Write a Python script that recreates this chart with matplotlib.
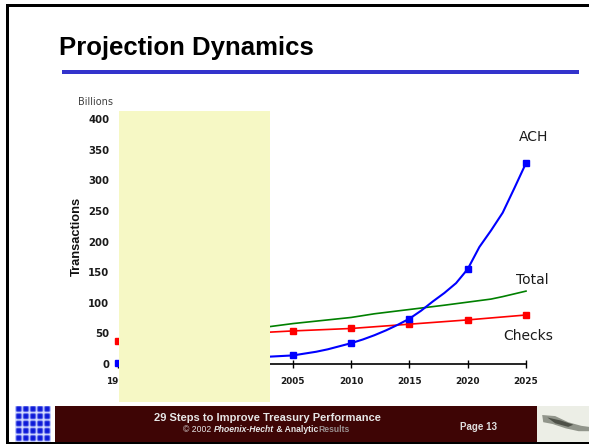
import matplotlib
matplotlib.use('Agg')
import matplotlib.pyplot as plt
from matplotlib.patches import Rectangle, Polygon
import numpy as np

W, H = 589, 444
DPI = 100

# ---------------- data ----------------
ach_years = [1990, 1995, 2000, 2003, 2005, 2006, 2007, 2008, 2009, 2010, 2011, 2012,
             2013, 2014, 2015, 2016, 2017, 2018, 2019, 2020, 2021, 2022, 2023, 2024, 2025]
ach_values = [1, 4, 8, 12, 14, 17, 20, 24, 29, 34, 40, 47,
              55, 64, 74, 87, 102, 116, 132, 155, 191, 218, 247, 287, 328]

check_years = [1990, 1995, 2000, 2005, 2010, 2015, 2020, 2025]
check_values = [37, 44, 49, 54, 58, 65, 72, 80]

total_years = [2000, 2003, 2005, 2008, 2010, 2012, 2015, 2018, 2020, 2022, 2023, 2025]
total_values = [58, 61, 66, 72, 76, 82, 89, 96, 101, 106, 110, 119]

x_ticks = [1990, 1995, 2000, 2005, 2010, 2015, 2020, 2025]
y_ticks = [0, 50, 100, 150, 200, 250, 300, 350, 400]

series_labels = ["ACH", "Total", "Checks"]

# ---------------- figure ----------------
fig = plt.figure(figsize=(W / DPI, H / DPI), dpi=DPI)
fig.patch.set_facecolor('white')


def fx(x):
    return x / W


def fy(y):
    return 1 - y / H


def frect(x0, y0, x1, y1, color, z=1, **kw):
    fig.add_artist(Rectangle((fx(x0), fy(y1)), (x1 - x0) / W, (y1 - y0) / H,
                             transform=fig.transFigure, facecolor=color,
                             edgecolor='none', zorder=z, **kw))


# ---------------- axes ----------------
x0, x1 = 1989.5, 2027
y0, y1 = -10, 410
ppy = (526 - 118) / 35.0
ppu = (364 - 119) / 400.0
left = 118 + (x0 - 1990) * ppy
right = 118 + (x1 - 1990) * ppy
bottom = 364 - y0 * ppu
top = 364 - y1 * ppu
ax = fig.add_axes([fx(left), fy(bottom), (right - left) / W, (bottom - top) / H])
ax.set_xlim(x0, x1)
ax.set_ylim(y0, y1)
ax.patch.set_visible(False)
for s in ['top', 'right', 'left']:
    ax.spines[s].set_visible(False)
ax.spines['bottom'].set_position(('data', 0))
ax.spines['bottom'].set_bounds(1990, 2025)
ax.spines['bottom'].set_linewidth(1.2)
ax.spines['bottom'].set_zorder(2)

ax.set_xticks(x_ticks)
ax.set_xticklabels([str(t) for t in x_ticks], fontsize=6.4, fontweight='bold',
                   family='DejaVu Sans', color='#1a1a1a')
ax.tick_params(axis='x', direction='inout', length=6, width=1, pad=6.4)
ax.set_yticks(y_ticks)
ax.set_yticklabels([str(t) for t in y_ticks], fontsize=7.3, fontweight='bold',
                   family='DejaVu Sans', color='#1a1a1a')
ax.tick_params(axis='y', length=0, pad=2)

ax.plot(total_years, total_values, color='#008000', lw=1.2, zorder=3)
ax.plot(check_years, check_values, color='#ff0000', lw=1.2, marker='s', ms=4.5,
        zorder=4, clip_on=False)
mk = [i for i, y in enumerate(ach_years) if y % 5 == 0]
ax.plot(ach_years, ach_values, color='#0000ff', lw=1.5, marker='s', ms=4.5,
        markevery=mk, zorder=5, clip_on=False)

# series labels
fig.text(fx(534), fy(137), series_labels[0], fontsize=10, family='DejaVu Sans',
         color='#1a1a1a', ha='center', va='center')
fig.text(fx(532), fy(280), series_labels[1], fontsize=10, family='DejaVu Sans',
         color='#1a1a1a', ha='center', va='center')
fig.text(fx(528), fy(336), series_labels[2], fontsize=10, family='DejaVu Sans',
         color='#1a1a1a', ha='center', va='center')

fig.text(fx(77), fy(236), 'Transactions', rotation=90, fontsize=9.3,
         fontweight='bold', family='Liberation Sans', ha='center', va='center',
         color='#111111')
fig.text(fx(95.5), fy(101.5), 'Billions', fontsize=7, family='DejaVu Sans',
         ha='center', va='center', color='#404040')

# yellow overlay rectangle
frect(119, 111, 270, 402, '#f6f8c5', z=10)

# ---------------- slide decorations ----------------
fig.text(fx(59), fy(55), 'Projection Dynamics', fontsize=18.5, fontweight='bold',
         family='Liberation Sans', ha='left', va='baseline', color='black')
frect(62, 70, 579, 74.5, '#3333cc', z=2)

# border
frect(6, 4, 9, 444, 'black', z=12)
frect(6, 4, 589, 7, 'black', z=12)
frect(6, 441.5, 589, 444, 'black', z=12)

# footer band
frect(55, 406, 537, 442, '#3e0505', z=2)
fig.text(fx(267), fy(418), '29 Steps to Improve Treasury Performance', fontsize=8,
         fontweight='bold', family='Liberation Sans', ha='center', va='center',
         color='#e6e6e6', zorder=3)
fig.text(fx(478), fy(427), 'Page 13', fontsize=7, fontweight='bold',
         family='Liberation Sans', ha='center', va='center', color='#e0e0e0', zorder=3)

# copyright line composed of pieces
pieces = [('\u00a9 2002 ', 'normal', 'normal', '#e6e6e6'),
          ('Phoenix-Hecht', 'italic', 'bold', '#e6e6e6'),
          (' & Analytic', 'normal', 'bold', '#e6e6e6'),
          ('Results', 'normal', 'bold', '#9a9090')]
renderer = fig.canvas.get_renderer()
texts = []
widths = []
for s, st, wt, c in pieces:
    t = fig.text(0, fy(429), s, fontsize=6.2, fontstyle=st, fontweight=wt,
                 family='Liberation Sans', ha='left', va='center', color=c, zorder=3)
    bb = t.get_window_extent(renderer=renderer)
    texts.append(t)
    widths.append(bb.width)
total_w = sum(widths)
cur = 266 - total_w / 2
for t, w in zip(texts, widths):
    t.set_x(fx(cur))
    cur += w

# blue grid icon
iax = fig.add_axes([fx(15), fy(442), 36 / W, 36 / H])
n = 72
g = np.linspace(0, 5, n)
gx, gy = np.meshgrid(g, g)
dx = np.abs(gx - np.round(gx))
dy = np.abs(gy - np.round(gy))
glow = np.clip(np.exp(-(dx / 0.14) ** 2) + np.exp(-(dy / 0.14) ** 2), 0, 1)
base = np.array([0.05, 0.1, 0.85])
white = np.array([0.85, 0.88, 1.0])
img = base[None, None, :] * (1 - glow[..., None]) + white[None, None, :] * glow[..., None]
iax.imshow(img, aspect='auto', interpolation='bilinear')
iax.axis('off')

# pen picture (approximation)
pax = fig.add_axes([fx(537), fy(442), 52 / W, 36 / H])
pax.set_xlim(0, 1)
pax.set_ylim(0, 1)
pax.axis('off')
pax.add_patch(Rectangle((0, 0), 1, 1, facecolor='#eceee6', edgecolor='none'))
pax.add_patch(Polygon([[0.1, 0.75], [0.35, 0.72], [0.6, 0.55], [0.85, 0.45], [1.0, 0.42],
                       [1.0, 0.3], [0.8, 0.3], [0.55, 0.38], [0.3, 0.5], [0.12, 0.55]],
                      closed=True, facecolor='#7b7f74', edgecolor='none', alpha=0.8))
pax.add_patch(Polygon([[0.2, 0.68], [0.45, 0.6], [0.7, 0.48], [0.6, 0.42], [0.35, 0.52]],
                      closed=True, facecolor='#3d4038', edgecolor='none', alpha=0.8))

fig.savefig('out.png', dpi=DPI)
